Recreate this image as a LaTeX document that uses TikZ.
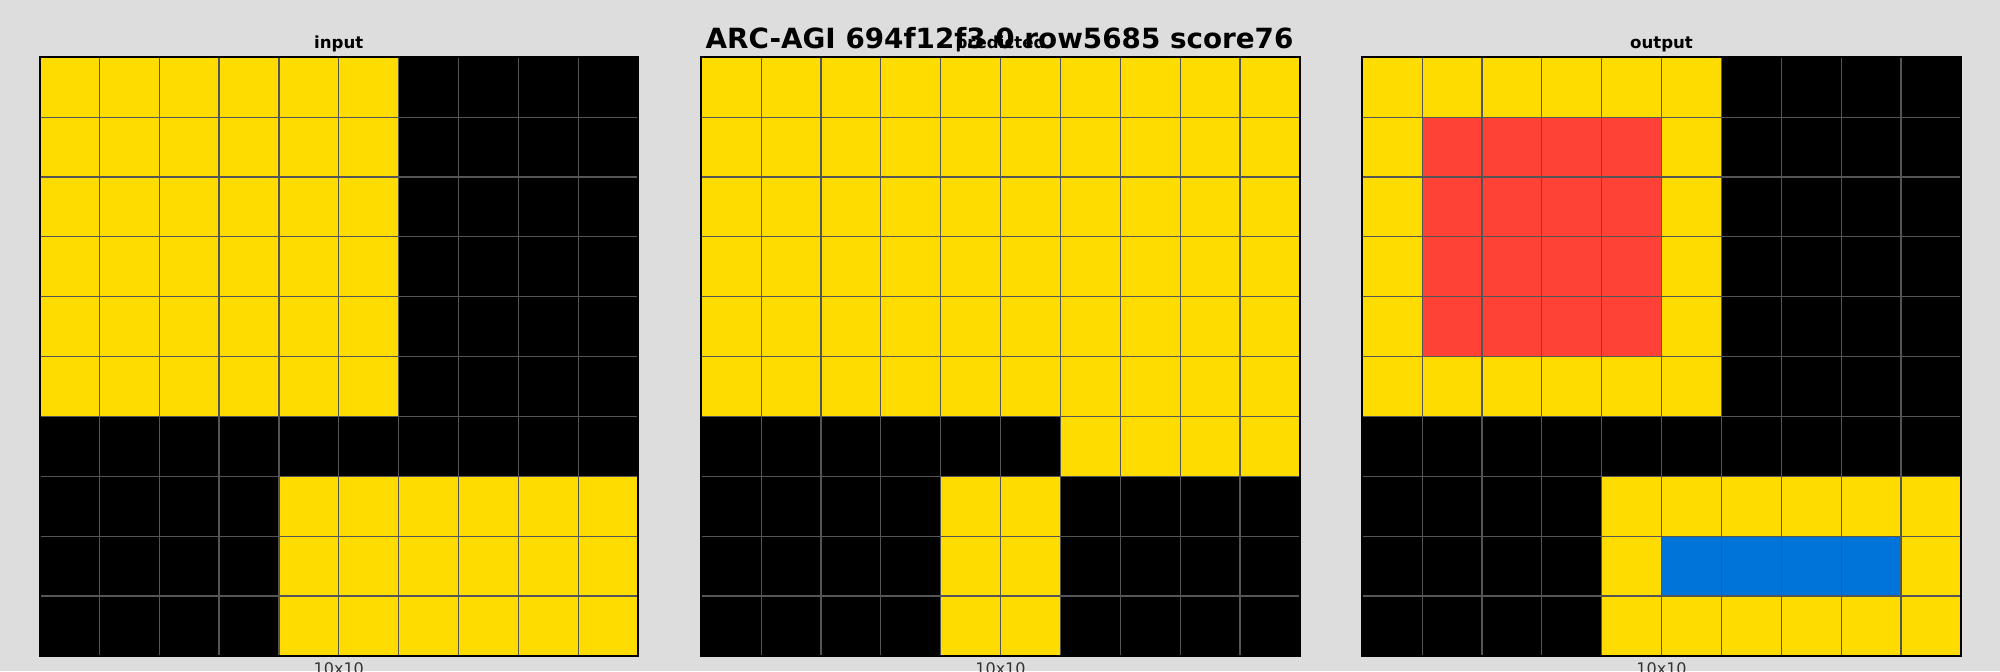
\documentclass[tikz,border=0pt]{standalone}
\usepackage{fontspec}
\setmainfont{DejaVu Sans}
\usetikzlibrary{positioning}
\definecolor{bggray}{RGB}{221,221,221}
\definecolor{arc0}{RGB}{0,0,0}
\definecolor{arc1}{RGB}{0,116,217}
\definecolor{arc2}{RGB}{255,65,54}
\definecolor{arc4}{RGB}{255,220,0}
\definecolor{gridgray}{RGB}{85,85,85}
\definecolor{labelgray}{RGB}{51,51,51}

% cells of one 10x10 panel: #1 = left edge, #2 = rows
\newcommand{\arcpanel}[2]{%
  \foreach \row [count=\r from 0] in {#2} {
    \foreach \v [count=\c from 0] in \row {
      \fill[arc\v] (#1+\c*59.85, 57.3+\r*59.85) rectangle ++(59.85,59.85);
    }
  }
  \foreach \k in {1,...,9} {
    \draw[cellline] (#1+\k*59.85, 57.3) -- ++(0,598.5);
    \draw[cellline] (#1, 57.3+\k*59.85) -- ++(598.5,0);
  }
  \draw[frameline] (#1, 57.3) rectangle ++(598.5,598.5);
}

\begin{document}
\begin{tikzpicture}[
    x=0.5pt, y=-0.5pt,
    cellline/.style={gridgray, line width=0.6pt},
    frameline/.style={black, line width=1pt},
    paneltitle/.style={font=\bfseries\fontsize{8.3}{10}\selectfont, anchor=base, inner sep=0pt},
    sizelabel/.style={font=\fontsize{8}{10}\selectfont, text=labelgray, anchor=base, inner sep=0pt},
  ]
    \clip (0,0) rectangle (2000,671);
    \fill[bggray] (0,0) rectangle (2000,671);

    % input
    \arcpanel{39.5}{
      {4,4,4,4,4,4,0,0,0,0},{4,4,4,4,4,4,0,0,0,0},{4,4,4,4,4,4,0,0,0,0},
      {4,4,4,4,4,4,0,0,0,0},{4,4,4,4,4,4,0,0,0,0},{4,4,4,4,4,4,0,0,0,0},
      {0,0,0,0,0,0,0,0,0,0},{0,0,0,0,4,4,4,4,4,4},{0,0,0,0,4,4,4,4,4,4},
      {0,0,0,0,4,4,4,4,4,4}}
    % predicted
    \arcpanel{701.3}{
      {4,4,4,4,4,4,4,4,4,4},{4,4,4,4,4,4,4,4,4,4},{4,4,4,4,4,4,4,4,4,4},
      {4,4,4,4,4,4,4,4,4,4},{4,4,4,4,4,4,4,4,4,4},{4,4,4,4,4,4,4,4,4,4},
      {0,0,0,0,0,0,4,4,4,4},{0,0,0,0,4,4,0,0,0,0},{0,0,0,0,4,4,0,0,0,0},
      {0,0,0,0,4,4,0,0,0,0}}
    % output
    \arcpanel{1362.3}{
      {4,4,4,4,4,4,0,0,0,0},{4,2,2,2,2,4,0,0,0,0},{4,2,2,2,2,4,0,0,0,0},
      {4,2,2,2,2,4,0,0,0,0},{4,2,2,2,2,4,0,0,0,0},{4,4,4,4,4,4,0,0,0,0},
      {0,0,0,0,0,0,0,0,0,0},{0,0,0,0,4,4,4,4,4,4},{0,0,0,0,4,1,1,1,1,4},
      {0,0,0,0,4,4,4,4,4,4}}

    \node[paneltitle] (intitle) at (338.8,48.3) {input};
    \node[paneltitle] (predtitle) at (1000.5,48.3) {predicted};
    \node[paneltitle] (outtitle) at (1661.5,48.3) {output};
    \node[font=\bfseries\fontsize{13.9}{16}\selectfont, anchor=base, inner sep=0pt]
      (suptitle) at (999.5,48.3) {ARC-AGI 694f12f3 0 row5685 score76};

    \node[sizelabel] (insize) at (338.8,674.5) {10x10};
    \node[sizelabel] (predsize) at (1000.5,674.5) {10x10};
    \node[sizelabel] (outsize) at (1661.5,674.5) {10x10};
  \end{tikzpicture}
\end{document}
